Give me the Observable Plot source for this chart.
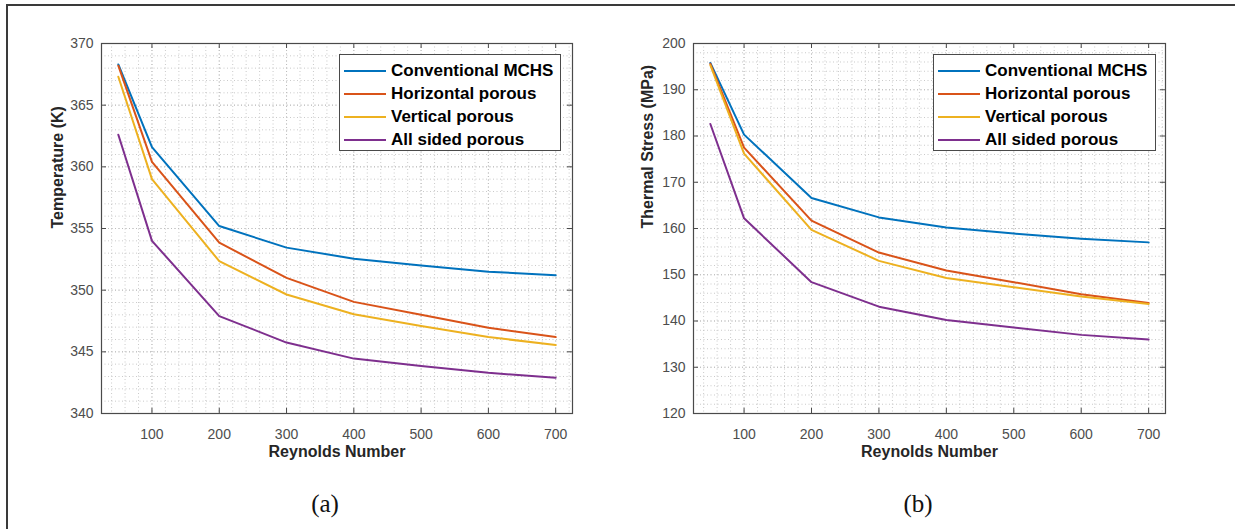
<!DOCTYPE html>
<html>
<head>
<meta charset="utf-8">
<script src="https://cdn.jsdelivr.net/npm/d3@7"></script>
<script src="https://cdn.jsdelivr.net/npm/@observablehq/plot@0.6"></script>
<style>
html, body { margin: 0; padding: 0; background: #fff; }
#wrap { position: relative; width: 1235px; height: 529px; overflow: hidden; font-family: "Liberation Sans", Arial, sans-serif; background: #fff; }
.border { position: absolute; left: 6px; top: 4px; width: 1240px; height: 540px; border-top: 2px solid #3a3a3a; border-left: 2px solid #3a3a3a; z-index: 5; pointer-events: none; }
.panel { position: absolute; top: 0; }
.legend { position: absolute; background: #fff; border: 1px solid #4a4a4a; box-sizing: border-box; padding: 4px 0 0 4px; z-index: 3; }
.row { display: flex; align-items: center; height: 23px; }
.row span { font-weight: bold; font-size: 17px; color: #000; margin-left: 5px; white-space: nowrap; }
.cap { position: absolute; width: 100px; text-align: center; font-family: "Liberation Serif", "DejaVu Serif", serif; font-size: 25px; line-height: 1; color: #111; }
</style>
</head>
<body>
<div id="wrap">
  <div id="pa" class="panel" style="left:0px"></div>
  <div id="pb" class="panel" style="left:617px"></div>
  <div id="la" class="legend" style="left:339px; top:54px; width:222px; height:97px"></div>
  <div id="lb" class="legend" style="left:933px; top:54px; width:223px; height:97px"></div>
  <div class="cap" style="left:275px; top:491px">(a)</div>
  <div class="cap" style="left:868px; top:491px">(b)</div>
  <div class="border"></div>
</div>
<script>
// ---- data ----
const reynolds = [50, 100, 200, 300, 400, 500, 600, 700];
const seriesNames = ["Conventional MCHS", "Horizontal porous", "Vertical porous", "All sided porous"];
const seriesColors = ["#0072BD", "#D95319", "#EDB120", "#7E2F8E"];

// (a) Temperature (K)
const tempConventional = [368.3, 361.6, 355.2, 353.45, 352.55, 352.0, 351.5, 351.2];
const tempHorizontal   = [368.2, 360.4, 353.85, 351.0, 349.05, 348.0, 346.95, 346.2];
const tempVertical     = [367.3, 359.0, 352.35, 349.65, 348.05, 347.1, 346.2, 345.55];
const tempAllSided     = [362.6, 354.0, 347.9, 345.75, 344.45, 343.85, 343.3, 342.9];

// (b) Thermal stress (MPa)
const stressConventional = [195.8, 180.3, 166.6, 162.4, 160.2, 158.9, 157.8, 157.0];
const stressHorizontal   = [195.6, 177.5, 161.7, 154.8, 150.9, 148.4, 145.8, 143.9];
const stressVertical     = [195.3, 176.2, 159.7, 153.0, 149.3, 147.3, 145.3, 143.7];
const stressAllSided     = [182.6, 162.2, 148.4, 143.1, 140.2, 138.6, 137.0, 136.0];

const xTicks = [100, 200, 300, 400, 500, 600, 700];
const tempTicks = [340, 345, 350, 355, 360, 365, 370];
const stressTicks = [120, 130, 140, 150, 160, 170, 180, 190, 200];

function rows(seriesArrays) {
  const out = [];
  seriesArrays.forEach((arr, i) => arr.forEach((v, j) => out.push({x: reynolds[j], y: v, s: seriesNames[i]})));
  return out;
}

function chart({data, yDomain, yTicks, yMinorStep, yLabel, width, height, margin, yLabelOffset}) {
  const innerW = width - margin.left - margin.right;
  const innerH = height - margin.top - margin.bottom;
  const xMinor = d3.range(40, 725, 20);
  const yMinor = d3.range(yDomain[0], yDomain[1] + 0.001, yMinorStep);
  const gridStyle = {stroke: "#bdbdbd", strokeWidth: 1, strokeDasharray: "1,2.5"};
  const tickStroke = "#4a4a4a";
  return Plot.plot({
    width, height,
    marginTop: margin.top, marginRight: margin.right, marginBottom: margin.bottom, marginLeft: margin.left,
    style: {fontFamily: "'Liberation Sans', Arial, sans-serif", fontSize: "14px", color: "#4d4d4d", background: "transparent"},
    x: {domain: [25, 725]},
    y: {domain: yDomain},
    color: {domain: seriesNames, range: seriesColors},
    marks: [
      Plot.ruleX(xMinor, {x: d => d, ...gridStyle, strokeOpacity: 0.8}),
      Plot.ruleY(yMinor, {y: d => d, ...gridStyle, strokeOpacity: 0.8}),
      Plot.ruleX(xTicks, {x: d => d, ...gridStyle}),
      Plot.ruleY(yTicks, {y: d => d, ...gridStyle}),
      Plot.tickX(xTicks, {x: d => d, insetTop: innerH - 5, stroke: tickStroke}),
      Plot.tickX(xTicks, {x: d => d, insetBottom: innerH - 5, stroke: tickStroke}),
      Plot.tickY(yTicks, {y: d => d, insetRight: innerW - 5, stroke: tickStroke}),
      Plot.tickY(yTicks, {y: d => d, insetLeft: innerW - 5, stroke: tickStroke}),
      Plot.frame({stroke: "#4a4a4a", strokeWidth: 1.2}),
      Plot.axisX({ticks: xTicks, tickSize: 0, tickPadding: 16, label: null, fill: "#4d4d4d"}),
      Plot.axisY({ticks: yTicks, tickSize: 0, tickPadding: 8, label: null, fill: "#4d4d4d"}),
      Plot.line(data, {x: "x", y: "y", stroke: "s", strokeWidth: 2}),
      Plot.text(["Reynolds Number"], {text: d => d, frameAnchor: "bottom", dy: 43, fontWeight: "bold", fontSize: 16, fill: "#262626"}),
      Plot.text([yLabel], {text: d => d, frameAnchor: "left", dx: -yLabelOffset, rotate: -90, fontWeight: "bold", fontSize: 16, fill: "#262626"})
    ]
  });
}

document.getElementById("pa").appendChild(chart({
  data: rows([tempConventional, tempHorizontal, tempVertical, tempAllSided]),
  yDomain: [340, 370], yTicks: tempTicks, yMinorStep: 1, yLabel: "Temperature (K)",
  width: 617, height: 470, margin: {top: 43, right: 45, bottom: 57, left: 101}, yLabelOffset: 44
}));
document.getElementById("pb").appendChild(chart({
  data: rows([stressConventional, stressHorizontal, stressVertical, stressAllSided]),
  yDomain: [120, 200], yTicks: stressTicks, yMinorStep: 2, yLabel: "Thermal Stress (MPa)",
  width: 618, height: 470, margin: {top: 43, right: 70, bottom: 57, left: 76}, yLabelOffset: 46
}));

function legend(id) {
  const el = document.getElementById(id);
  seriesNames.forEach((name, i) => {
    const row = document.createElement("div");
    row.className = "row";
    row.innerHTML = `<svg width="42" height="4"><line x1="0" x2="42" y1="2" y2="2" stroke="${seriesColors[i]}" stroke-width="2"/></svg><span>${name}</span>`;
    el.appendChild(row);
  });
}
legend("la");
legend("lb");
</script>
</body>
</html>
